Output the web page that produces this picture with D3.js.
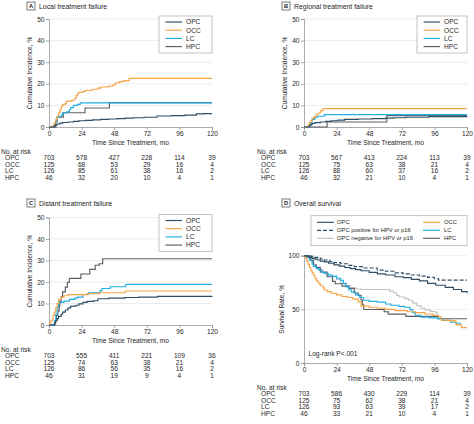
<!DOCTYPE html>
<html><head><meta charset="utf-8">
<script src="https://cdn.jsdelivr.net/npm/d3@7"></script>
<style>
html,body{margin:0;padding:0;background:#fff;}
svg{display:block;font-family:"Liberation Sans",Arial,sans-serif;}
</style></head>
<body><svg id="c" width="474" height="424"></svg>
<script>
// ---------- DATA ----------
const timeTicks = [0, 24, 48, 72, 96, 120];
const incTicks = [0, 10, 20, 30, 40, 50];
const survTicks = [0, 50, 100];
const groups = ["OPC", "OCC", "LC", "HPC"];

// A: Local treatment failure (time mo, cumulative incidence %)
const localOPC = [[0,0],[3,0],[4,0.5],[5,1],[6,1.4],[8,1.8],[10,2.1],[14,2.3],[18,2.6],[22,2.9],[27,3.1],[32,3.3],[38,3.5],[44,3.7],[50,3.9],[56,4.1],[62,4.3],[70,4.5],[79.5,5.1],[90,5.3],[100,5.5],[108.5,6.1],[114,6.2],[120,6.2]];
const localOCC = [[0,0],[2.5,0],[3,0.8],[4,2],[5,3.5],[6,5],[7,6.5],[8,8],[9,9.5],[10,10.5],[12,11],[13,12],[17,12.5],[19,13.5],[20,14.5],[21,15.5],[22,16],[25,16.5],[27,17],[32,17.5],[36,18],[38,18.5],[44,19],[47,19.5],[49,20.5],[52,21],[55,21.5],[59,22.5],[120,22.5]];
const localLC = [[0,0],[3,0],[4,1.5],[5,3],[6,4.5],[7,5],[9,5.5],[10,6.5],[13,7],[15,8],[16,9],[18,10],[21,10.5],[23,11.2],[120,11.2]];
const localHPC = [[0,0],[4,0],[5,2.3],[6,4.6],[10.5,6.6],[26.5,8.8],[44.5,11.3],[120,11.3]];

// B: Regional treatment failure
const regOPC = [[0,0],[3,0],[4,0.6],[5,1.2],[6,1.6],[8,2],[12,2.3],[16,2.6],[20,2.9],[25,3.2],[30,3.5],[40,3.7],[50,3.9],[60,4.1],[66,4.3],[75,4.5],[92,4.8],[120,4.9]];
const regOCC = [[0,0],[2,0],[3,1],[4,2],[5,3],[6,4],[7,4.5],[8,5],[9,6],[11,6.5],[12,7.5],[14,8.5],[120,8.5]];
const regLC = [[0,0],[3,0],[4,0.8],[5,2],[6,3.5],[8,4.5],[10,5],[15,5.7],[120,5.7]];
const regHPC = [[0,0],[17,2.3],[61,5.3],[120,5.3]];

// C: Distant treatment failure
const distOPC = [[0,0],[3,0],[4,1],[5,2],[6,3],[7,4],[9,5],[10,6],[12,7],[14,8],[16,8.8],[20,9.2],[22,9.8],[25,10.5],[28,11],[33,11.3],[36,12.2],[44,12.5],[56,12.8],[66,13],[80,13.3],[120,13.4]];
const distOCC = [[0,0],[0.5,1],[1.5,2],[2.5,3],[3,4.5],[4,6],[5,8],[6,10],[7,12],[9,13],[11,13.6],[14,14.1],[28,14.6],[37,15],[56,15.8],[120,15.8]];
const distLC = [[0,0],[3,0],[4,2],[5,5],[6,8],[7,10.5],[11,11.1],[15,11.9],[19,12.5],[21,13],[25,14.2],[29,15],[37.5,16],[39,17],[45,17.8],[56.5,18.9],[120,18.9]];
const distHPC = [[0,0],[3.5,0],[4.5,2.2],[5.5,4.4],[6.5,6.6],[7.5,8.8],[8,11],[9,13.2],[10,15.4],[12,17.6],[13.5,19.8],[15,21.7],[23.5,23.7],[30,25.9],[34,27.8],[37,28.5],[39.5,30.8],[120,30.8]];

// D: Overall survival (%)
const survOPC = [[0,100],[2,99.5],[4,98.5],[6,97.5],[8,96.8],[10,96],[12,95],[15,94.3],[18,93],[22,91.5],[26,90.3],[30,89],[34,88],[38,87],[42,86],[48,84.5],[54,83],[60,82],[67,80.4],[73,79.5],[79,78],[85,76.5],[91,74.2],[97,72.5],[104,70.5],[110,68.5],[116,66.5],[120,65]];
const survOPCpos = [[0,100],[4,99.5],[8,98.5],[12,97],[15,96],[19,94.5],[22,93.5],[27,92.5],[32,91],[37,89.8],[44,88.5],[54,86.6],[60,85.5],[67,84],[73,83],[79,82],[85,81],[91,79.8],[96,78.5],[99,77.3],[120,77.3]];
const survOPCneg = [[0,100],[2,98],[4,96],[6,94],[7,92],[9,89],[11,87],[14,84],[17,82],[21,80.5],[24,78],[27,74.5],[31,72],[34,70],[38,69],[42,68.5],[60,68.5],[63,67],[66,65.5],[68,63],[70,61.5],[74,60],[77,58.5],[80,56],[83,53.5],[86,51],[89,49.5],[93,48],[97,46.5],[99,46.5]];
const survOCC = [[0,100],[1,98],[2,95],[3,92],[4,89],[5,86],[6,84],[7,82],[8,79],[9,77],[10,75.5],[11,74],[12,72],[14,70],[15,68],[17,66.5],[20,65],[24,63.5],[28,62],[32,61],[36,59.5],[40,57],[42,53],[48,52],[54,51],[60,50],[67,48.8],[76,47.8],[82,47],[89,45.7],[95,44.5],[99,43],[101,40],[106,39.5],[111,38.5],[112,35.5],[116,33],[120,33]];
const survLC = [[0,100],[2,98.5],[4,96],[6,92],[7,90],[9,88],[11,86.5],[13,84.5],[15,83.4],[18,82],[20,81],[24,79],[27,77],[29,74],[31,71],[33,68],[35,66],[38,63.5],[41,61],[44,58.5],[48,57.5],[54,56.8],[60,55],[64,53.8],[70,52.8],[74,52],[78,49.7],[80,47],[82,44.5],[86,42.8],[92,42],[98,41.3],[102,39.7],[108,38],[112,37],[115,36]];
const survHPC = [[0,100],[3,100],[5,95.7],[7,91.3],[9,89.1],[12,84.8],[17,80.4],[21,76.1],[23,73.9],[28,71.7],[33,69.6],[37,65.2],[40,63],[42,58.7],[43,54.3],[44,49.9],[59,47.8],[62,45.6],[75,43.4],[99,41.2],[120,41.2]];

// Numbers at risk (rows OPC, OCC, LC, HPC; columns = timeTicks)
const riskLocal = [[703,578,427,228,114,39],[125,68,53,29,16,4],[126,85,61,38,16,2],[46,32,20,10,4,1]];
const riskRegional = [[703,567,413,224,113,39],[125,75,63,38,21,4],[126,88,60,37,16,2],[46,32,21,10,4,1]];
const riskDistant = [[703,555,411,221,109,36],[125,74,63,38,21,4],[126,86,56,35,16,2],[46,31,19,9,4,1]];
const riskSurvival = [[703,586,430,229,114,39],[125,75,62,38,21,4],[126,93,63,39,17,2],[46,33,21,10,4,1]];

// ---------- STYLE ----------
const colors = {OPC:"#2e4d66", OCC:"#f5a445", LC:"#21aee4", HPC:"#5b5f64", OPCpos:"#2e4d66", OPCneg:"#bfc3c7"};
const FS = 6.6;
const TXT = "#262626";
const svg = d3.select("#c");

function panel(cfg){
  const g = svg.append("g");
  const x = d3.scaleLinear().domain([0,120]).range([cfg.x0, cfg.x1]);
  const y = d3.scaleLinear().domain(cfg.yDomain).range([cfg.y0, cfg.y1]);
  // panel label
  g.append("rect").attr("x", cfg.lx).attr("y", cfg.ly).attr("width", 8).attr("height", 8)
    .attr("fill","#fff").attr("stroke","#444").attr("stroke-width",0.7);
  g.append("text").attr("x", cfg.lx+4).attr("y", cfg.ly+6.3).attr("text-anchor","middle")
    .attr("font-size",5.8).attr("font-weight","bold").attr("fill","#222").text(cfg.letter);
  g.append("text").attr("x", cfg.lx+12).attr("y", cfg.ly+6.6).attr("font-size",6.9).attr("fill","#1e1e1e").text(cfg.title);
  // grid
  g.selectAll(".grid").data(cfg.yTicks.filter(d=>d>0)).join("line")
    .attr("x1", cfg.x0).attr("x2", cfg.x1).attr("y1", d=>y(d)).attr("y2", d=>y(d))
    .attr("stroke","#e4e4e4").attr("stroke-width",0.7);
  // axes
  const ax = g.append("g").attr("transform",`translate(0,${cfg.y0})`)
    .call(d3.axisBottom(x).tickValues(timeTicks).tickSize(3).tickPadding(1.5));
  const ay = g.append("g").attr("transform",`translate(${cfg.x0},0)`)
    .call(d3.axisLeft(y).tickValues(cfg.yTicks).tickSize(3).tickPadding(1.5));
  [ax, ay].forEach(a=>{
    a.selectAll("path,line").attr("stroke","#8a8a8a").attr("stroke-width",0.7);
    a.selectAll("text").attr("font-size",FS).attr("fill",TXT).attr("font-family","Liberation Sans,Arial,sans-serif");
  });
  g.append("text").attr("x",(cfg.x0+cfg.x1)/2).attr("y",cfg.y0+17.5).attr("text-anchor","middle")
    .attr("font-size",FS).attr("fill",TXT).text("Time Since Treatment, mo");
  g.append("text").attr("transform",`translate(${cfg.yl},${(cfg.y0+cfg.y1)/2}) rotate(-90)`)
    .attr("text-anchor","middle").attr("font-size",FS).attr("fill",TXT).text(cfg.ytitle);
  // curves
  const line = d3.line().x(d=>x(d[0])).y(d=>y(d[1])).curve(d3.curveStepAfter);
  cfg.series.forEach(s=>{
    g.append("path").attr("d", line(s.data)).attr("fill","none").attr("stroke", s.color)
      .attr("stroke-width", 1.15).attr("stroke-dasharray", s.dash || null);
  });
  // risk table
  const ty = cfg.y0 + 26.5;
  g.append("text").attr("x", cfg.tx).attr("y", ty).attr("font-size",FS).attr("fill",TXT).text("No. at risk");
  cfg.risk.forEach((row,i)=>{
    const yy = ty + 6.6*(i+1);
    g.append("text").attr("x", cfg.tx+4).attr("y", yy).attr("font-size",FS).attr("fill",TXT).text(groups[i]);
    g.selectAll(null).data(row).join("text").attr("x",(d,j)=>x(timeTicks[j])).attr("y",yy)
      .attr("text-anchor","middle").attr("font-size",FS).attr("fill",TXT).text(d=>d);
  });
  return {g, x, y};
}

function legend4(g, bx, by, bw, bh, items){
  g.append("rect").attr("x",bx).attr("y",by).attr("width",bw).attr("height",bh)
    .attr("fill","#fff").attr("stroke","#a8a8a8").attr("stroke-width",0.7);
  items.forEach((it,i)=>{
    const yy = by + 6 + i*8.2;
    g.append("line").attr("x1",bx+6.5).attr("x2",bx+23).attr("y1",yy).attr("y2",yy)
      .attr("stroke",it.color).attr("stroke-width",1.15).attr("stroke-dasharray", it.dash||null);
    g.append("text").attr("x",bx+27).attr("y",yy+2.3).attr("font-size",FS).attr("fill",TXT).text(it.name);
  });
}

const std = (a,b,c,d)=>[
  {name:"OPC", data:a, color:colors.OPC},
  {name:"OCC", data:b, color:colors.OCC},
  {name:"LC", data:c, color:colors.LC},
  {name:"HPC", data:d, color:colors.HPC}];
const drawOrder = s => [s[3], s[2], s[1], s[0]];

// A
const sA = std(localOPC, localOCC, localLC, localHPC);
const pA = panel({letter:"A", title:"Local treatment failure", lx:27, ly:2, x0:49, x1:212, y0:127, y1:19,
  yDomain:[0,50], yTicks:incTicks, yl:31.5, ytitle:"Cumulative Incidence, %", series:drawOrder(sA), risk:riskLocal, tx:1});
legend4(pA.g, 159, 16, 53, 37, sA);

// B
const sB = std(regOPC, regOCC, regLC, regHPC);
const pB = panel({letter:"B", title:"Regional treatment failure", lx:282, ly:2, x0:304, x1:467, y0:127, y1:19,
  yDomain:[0,50], yTicks:incTicks, yl:286.5, ytitle:"Cumulative Incidence, %", series:drawOrder(sB), risk:riskRegional, tx:257});
legend4(pB.g, 417, 16, 50, 37, sB);

// C
const sC = std(distOPC, distOCC, distLC, distHPC);
const pC = panel({letter:"C", title:"Distant treatment failure", lx:27, ly:199, x0:49, x1:212, y0:325, y1:217.5,
  yDomain:[0,50], yTicks:incTicks, yl:31.5, ytitle:"Cumulative Incidence, %", series:drawOrder(sC), risk:riskDistant, tx:1});
legend4(pC.g, 159, 214.5, 53, 37, sC);

// D
const sD = [
  {name:"OPC negative for HPV or p16", data:survOPCneg, color:colors.OPCneg},
  {name:"HPC", data:survHPC, color:colors.HPC},
  {name:"LC", data:survLC, color:colors.LC},
  {name:"OCC", data:survOCC, color:colors.OCC},
  {name:"OPC positive for HPV or p16", data:survOPCpos, color:colors.OPCpos, dash:"4,2"},
  {name:"OPC", data:survOPC, color:colors.OPC}];
const pD = panel({letter:"D", title:"Overall survival", lx:282, ly:199, x0:304, x1:467, y0:363, y1:255.7,
  yDomain:[0,100], yTicks:survTicks, yl:284, ytitle:"Survival Rate, %", series:sD, risk:riskSurvival, tx:257});
{
  const g = pD.g, bx=311, by=215.7, bw=156, bh=30;
  const LFS = 5.8;
  g.append("rect").attr("x",bx).attr("y",by).attr("width",bw).attr("height",bh)
    .attr("fill","#fff").attr("stroke","#a8a8a8").attr("stroke-width",0.7);
  const left = [sD[5], sD[4], sD[0]], right = [sD[3], sD[2], sD[1]];
  [[left, 317, 337],[right, 423, 444]].forEach(([items, lx, tx])=>{
    items.forEach((it,i)=>{
      const yy = by + 6.6 + i*8;
      g.append("line").attr("x1",lx).attr("x2",lx+17).attr("y1",yy).attr("y2",yy)
        .attr("stroke",it.color).attr("stroke-width",1.15).attr("stroke-dasharray",it.dash||null);
      g.append("text").attr("x",tx).attr("y",yy+2.1).attr("font-size",LFS).attr("fill",TXT).text(it.name);
    });
  });
  g.append("text").attr("x",308.5).attr("y",356).attr("font-size",FS).attr("fill",TXT).text("Log-rank P<.001");
}
</script></body></html>
